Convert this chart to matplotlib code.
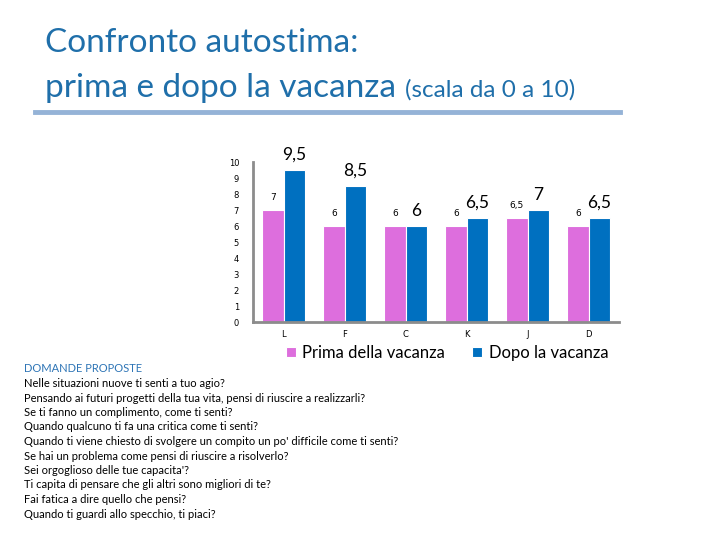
import matplotlib
matplotlib.use("Agg")
import matplotlib.pyplot as plt
import numpy as np

categories = ["L", "F", "C", "K", "J", "D"]
prima = [7, 6, 6, 6, 6.5, 6]
dopo = [9.5, 8.5, 6, 6.5, 7, 6.5]
y_ticks = list(range(0, 11))
series_names = ["Prima della vacanza", "Dopo la vacanza"]
title_lines = ["Confronto autostima:", "prima e dopo la vacanza"]
title_suffix = "(scala da 0 a 10)"
questions_header = "DOMANDE PROPOSTE"
questions = [
    "Nelle situazioni nuove ti senti a tuo agio?",
    "Pensando ai futuri progetti della tua vita, pensi di riuscire a realizzarli?",
    "Se ti fanno un complimento, come ti senti?",
    "Quando qualcuno ti fa una critica come ti senti?",
    "Quando ti viene chiesto di svolgere un compito un po' difficile come ti senti?",
    "Se hai un problema come pensi di riuscire a risolverlo?",
    "Sei orgoglioso delle tue capacita'?",
    "Ti capita di pensare che gli altri sono migliori di te?",
    "Fai fatica a dire quello che pensi?",
    "Quando ti guardi allo specchio, ti piaci?",
]

def fmt(v):
    s = ("%g" % v).replace(".", ",")
    return s

PINK = "#DD6EDD"
BLUE = "#0070C0"
TITLE_C = "#1F6FAA"
FONT = "Lato"

plt.rcParams["font.family"] = [FONT, "DejaVu Sans"]
fig = plt.figure(figsize=(7.2, 5.4), dpi=100)
fig.patch.set_facecolor("white")

W, H = 720, 540
ax = fig.add_axes([253 / W, 1 - 322 / H, 366 / W, 160 / H])
x = np.arange(len(categories))
bw = 0.35
b1 = ax.bar(x - bw / 2, prima, bw, color=PINK, edgecolor="white", linewidth=0.8, label=series_names[0])
b2 = ax.bar(x + bw / 2, dopo, bw, color=BLUE, edgecolor="white", linewidth=0.8, label=series_names[1])
ax.set_xlim(-0.5, len(categories) - 0.5)
ax.set_ylim(0, 10)
ax.set_yticks(y_ticks)
ax.set_yticklabels([str(t) for t in y_ticks], fontsize=6, fontfamily="DejaVu Sans")
ax.set_xticks(x)
ax.set_xticklabels(categories, fontsize=6, fontfamily="DejaVu Sans")
ax.tick_params(axis="both", length=0, pad=6)
ax.tick_params(axis="y", pad=10)
for side in ["top", "right"]:
    ax.spines[side].set_visible(False)
for side in ["left", "bottom"]:
    ax.spines[side].set_color("#8C8C8C")
    ax.spines[side].set_linewidth(2)

for rect, v in zip(b1, prima):
    ax.annotate(fmt(v), (rect.get_x() + rect.get_width() / 2, v), xytext=(0, 6),
                textcoords="offset points", ha="center", va="bottom", fontsize=6.5,
                fontfamily="DejaVu Sans", annotation_clip=False)
for rect, v in zip(b2, dopo):
    ax.annotate(fmt(v), (rect.get_x() + rect.get_width() / 2, v), xytext=(0, 5),
                textcoords="offset points", ha="center", va="bottom", fontsize=12.5,
                annotation_clip=False)

leg = ax.legend(loc="upper center", bbox_to_anchor=(0.53, -0.05), ncol=2, frameon=False,
                fontsize=12, handlelength=0.6, handleheight=0.6, handletextpad=0.4,
                columnspacing=1.6)

# title
fig.text(45 / W, 1 - 43 / H, title_lines[0], fontsize=24, color=TITLE_C, va="center", ha="left")
t2 = fig.text(45 / W, 1 - 88 / H, title_lines[1], fontsize=24, color=TITLE_C, va="center", ha="left")
fig.canvas.draw()
bb = t2.get_window_extent()
fig.text((bb.x1 + 9) / W, 1 - 90 / H, title_suffix, fontsize=17.5, color=TITLE_C, va="center", ha="left")
fig.add_artist(plt.Line2D([35 / W, 620 / W], [1 - 112 / H, 1 - 112 / H], color="#95B3D7", linewidth=3.5))

# questions
y0 = 369
fig.text(24 / W, 1 - y0 / H, questions_header, fontsize=8, color="#2E75B6", va="center", ha="left")
for i, q in enumerate(questions):
    fig.text(24 / W, 1 - (y0 + 14.5 * (i + 1)) / H, q, fontsize=8, color="black", va="center", ha="left")

fig.savefig("out.png", dpi=100, facecolor="white")
